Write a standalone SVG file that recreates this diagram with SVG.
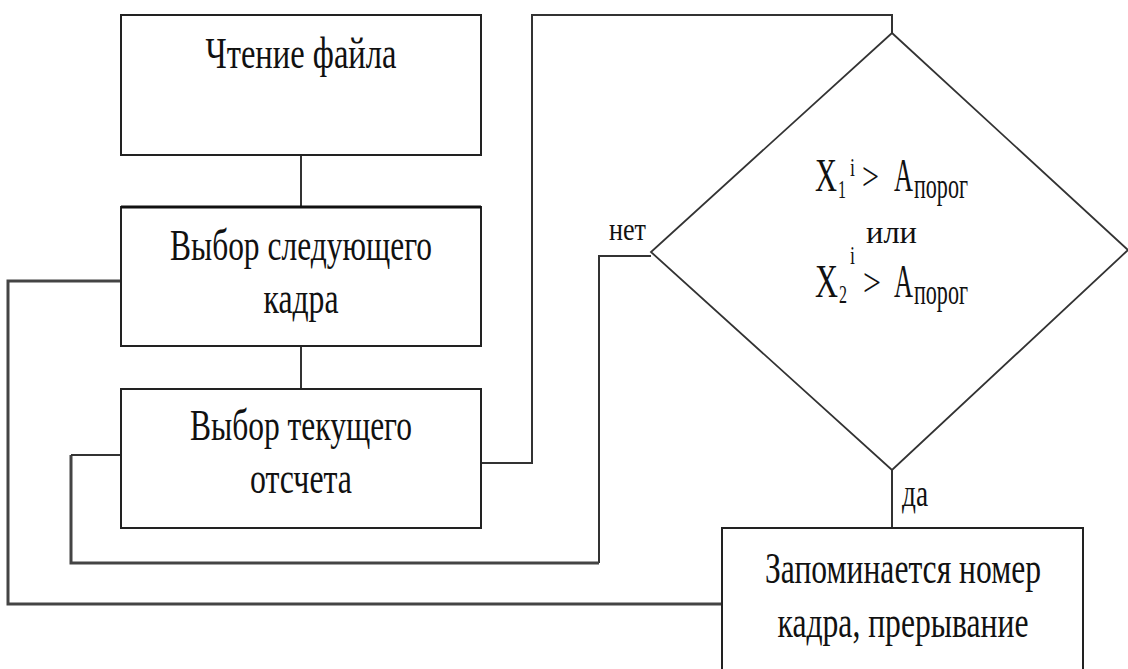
<svg xmlns="http://www.w3.org/2000/svg" width="1128" height="669" viewBox="0 0 1128 669">
<style>
.box{fill:#fff;stroke:#222;stroke-width:2}
.dia{fill:#fff;stroke:#333;stroke-width:1.8}
.con{fill:none;stroke:#333;stroke-width:2}
.thick{fill:none;stroke:#444;stroke-width:3}
text{font-family:"Liberation Serif","Times New Roman",serif;fill:#111}
.t{font-size:45px;text-anchor:middle}
</style>
<rect width="1128" height="669" fill="#fff"/>
<g id="connectors">
<path class="con" d="M301,155 V207"/>
<path class="con" d="M301,346 V389"/>
<path class="con" d="M481,463 H532 V15 H892 V33"/>
<path class="con" d="M892,470 V528"/>
<path class="con" d="M651,256 H599 V563"/>
<path class="thick" d="M599,563 H71 V455"/>
<path class="con" d="M71,455 H121"/>
<path class="thick" d="M121,281 H8 V604 H722"/>
</g>
<g id="read">
<rect class="box" x="121" y="15" width="360" height="140"/>
<text class="t" x="301" y="68" textLength="191" lengthAdjust="spacingAndGlyphs">Чтение файла</text>
</g>
<g id="nextframe">
<rect class="box" x="121" y="207" width="360" height="139"/>
<path d="M121,207 H481" stroke="#111" stroke-width="3"/>
<text class="t" x="301" y="260" textLength="262" lengthAdjust="spacingAndGlyphs">Выбор следующего</text>
<text class="t" x="301" y="313" textLength="75" lengthAdjust="spacingAndGlyphs">кадра</text>
</g>
<g id="cursample">
<rect class="box" x="121" y="389" width="360" height="139"/>
<text class="t" x="301" y="440" textLength="222" lengthAdjust="spacingAndGlyphs">Выбор текущего</text>
<text class="t" x="301" y="493" textLength="102" lengthAdjust="spacingAndGlyphs">отсчета</text>
</g>
<g id="decision">
<polygon class="dia" points="892,33 1128,250 892,470 651,252"/>
<text x="815" y="191" font-size="46" textLength="22" lengthAdjust="spacingAndGlyphs">X</text>
<text x="838" y="198" font-size="26" textLength="8" lengthAdjust="spacingAndGlyphs">1</text>
<text x="850" y="176" font-size="26" textLength="5" lengthAdjust="spacingAndGlyphs">i</text>
<text x="862" y="190" font-size="40" textLength="17" lengthAdjust="spacingAndGlyphs">&gt;</text>
<text x="894" y="191" font-size="46" textLength="19" lengthAdjust="spacingAndGlyphs">A</text>
<text x="914" y="198" font-size="36" textLength="54" lengthAdjust="spacingAndGlyphs">порог</text>
<text x="866" y="243" font-size="32" textLength="51" lengthAdjust="spacingAndGlyphs">или</text>
<text x="815" y="297" font-size="46" textLength="23" lengthAdjust="spacingAndGlyphs">X</text>
<text x="839" y="303" font-size="26" textLength="8" lengthAdjust="spacingAndGlyphs">2</text>
<text x="850" y="264" font-size="26" textLength="5" lengthAdjust="spacingAndGlyphs">i</text>
<text x="863" y="296" font-size="40" textLength="18" lengthAdjust="spacingAndGlyphs">&gt;</text>
<text x="894" y="297" font-size="46" textLength="19" lengthAdjust="spacingAndGlyphs">A</text>
<text x="914" y="304" font-size="36" textLength="54" lengthAdjust="spacingAndGlyphs">порог</text>
</g>
<g id="labels">
<text x="609" y="240" font-size="32" textLength="37" lengthAdjust="spacingAndGlyphs">нет</text>
<text x="902" y="506" font-size="38" textLength="26" lengthAdjust="spacingAndGlyphs">да</text>
</g>
<g id="store">
<path class="box" d="M722,669 V528 H1083 V669"/>
<text class="t" x="903" y="583" textLength="276" lengthAdjust="spacingAndGlyphs">Запоминается номер</text>
<text class="t" x="903" y="637" textLength="251" lengthAdjust="spacingAndGlyphs">кадра, прерывание</text>
</g>
</svg>
